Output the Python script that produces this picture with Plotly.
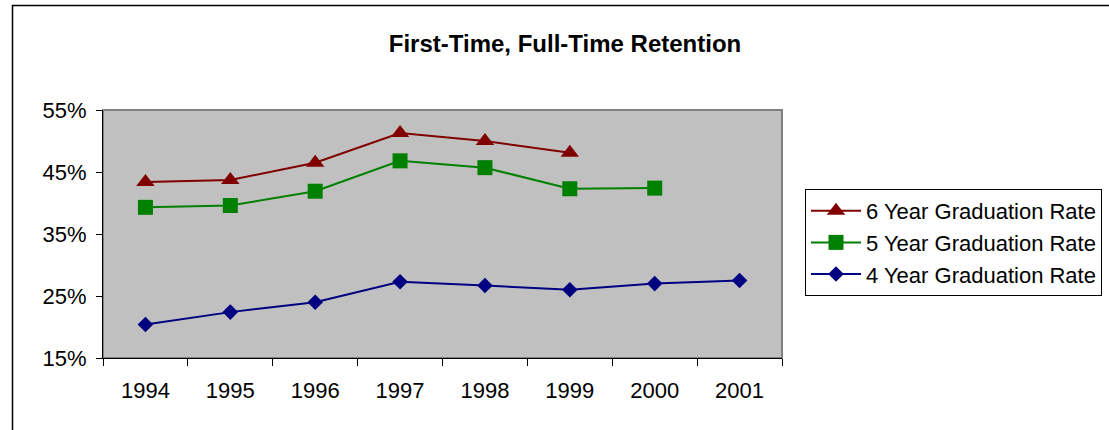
import plotly.graph_objects as go

years = ["1994", "1995", "1996", "1997", "1998", "1999", "2000", "2001"]
six_year = [0.434, 0.437, 0.465, 0.513, 0.500, 0.481]
five_year = [0.393, 0.396, 0.419, 0.468, 0.457, 0.423, 0.424]
four_year = [0.204, 0.224, 0.240, 0.273, 0.267, 0.260, 0.270, 0.275]

FONT = "Arial, Liberation Sans, sans-serif"

fig = go.Figure()
fig.add_trace(go.Scatter(
    x=years[:len(six_year)], y=six_year, name="6 Year Graduation Rate",
    mode="lines+markers", line=dict(color="#800000", width=2),
    marker=dict(symbol="triangle-up", size=16, color="#800000")))
fig.add_trace(go.Scatter(
    x=years[:len(five_year)], y=five_year, name="5 Year Graduation Rate",
    mode="lines+markers", line=dict(color="#008000", width=2),
    marker=dict(symbol="square", size=15, color="#008000")))
fig.add_trace(go.Scatter(
    x=years[:len(four_year)], y=four_year, name="4 Year Graduation Rate",
    mode="lines+markers", line=dict(color="#000080", width=2),
    marker=dict(symbol="diamond", size=12, color="#000080")))

L, R, T, B = 103, 327, 110, 72
W, H = 1109, 430
pw, ph = W - L - R, H - T - B

def px2x(p):
    return (p - L) / pw

def py2y(p):
    return (H - B - p) / ph

fig.update_layout(
    width=W, height=H,
    margin=dict(l=L, r=R, t=T, b=B, pad=0, autoexpand=False),
    paper_bgcolor="white", plot_bgcolor="#C0C0C0",
    font=dict(family=FONT, size=22, color="black"),
    title=dict(text="<b>First-Time, Full-Time Retention</b>",
               font=dict(family=FONT, size=24, color="black"),
               x=565 / W, xref="container", xanchor="center",
               y=1 - 44 / H, yref="container", yanchor="middle"),
    showlegend=True,
    legend=dict(x=px2x(805), y=py2y(189), xanchor="left", yanchor="top",
                bgcolor="white", bordercolor="black", borderwidth=1,
                font=dict(family=FONT, size=22, color="black"),
                itemwidth=50, tracegroupgap=0),
    xaxis=dict(type="category", categoryorder="array", categoryarray=years,
               range=[-0.5, 7.5], showgrid=False, zeroline=False,
               showline=True, linecolor="black", linewidth=1,
               ticks="outside", ticklen=7, tickcolor="black", tickson="boundaries",
               ticklabelstandoff=13,
               tickfont=dict(family=FONT, size=22, color="black")),
    yaxis=dict(range=[0.15, 0.55], dtick=0.1, tick0=0.15, tickformat=".0%",
               showgrid=False, zeroline=False,
               showline=True, linecolor="black", linewidth=1,
               ticks="outside", ticklen=6, tickcolor="black",
               ticklabelstandoff=5,
               tickfont=dict(family=FONT, size=22, color="black")),
    shapes=[
        dict(type="rect", xref="paper", yref="paper", x0=0, x1=1, y0=0, y1=1,
             line=dict(color="#808080", width=2), fillcolor="rgba(0,0,0,0)", layer="below"),
        dict(type="rect", xref="paper", yref="paper",
             x0=px2x(12.5), x1=px2x(1300), y0=py2y(500), y1=py2y(5.5),
             line=dict(color="black", width=1.5), fillcolor="rgba(0,0,0,0)"),
    ],
)

fig.write_html("out.html", config={"displayModeBar": False},
               post_script="document.body.style.margin='0';")
